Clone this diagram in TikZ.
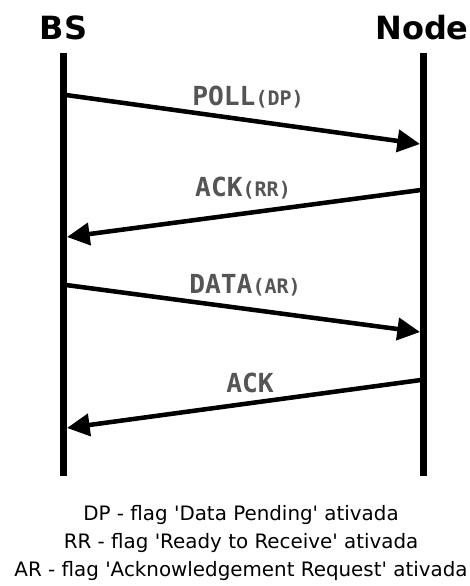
\documentclass[tikz,border=0pt]{standalone}
\usepackage{fontspec}
\setmainfont{DejaVu Sans}
\newfontfamily\monobold{DejaVu Sans Mono}[BoldFont={* Bold}]
\usetikzlibrary{arrows.meta}
\definecolor{msggray}{HTML}{555555}
\newcommand\flagsz{\fontsize{15pt}{18pt}\selectfont}
\newcommand\sq{\textquotesingle}
\tikzset{
  lifeline/.style={line width=5.25pt},
  msg/.style={line width=3.4pt,-{Triangle[length=17pt,width=16.5pt]}},
  actor/.style={font=\fontsize{24pt}{28pt}\selectfont\bfseries,inner sep=0pt},
  msglabel/.style={font=\monobold\bfseries\fontsize{19.7pt}{23pt}\selectfont,text=msggray,inner sep=0pt},
  legend/.style={font=\fontsize{14.9pt}{18pt}\selectfont,inner sep=0pt}
}
\begin{document}
\begin{tikzpicture}[x=0.75pt,y=-0.75pt]
\useasboundingbox (0,0) rectangle (470,586);
% participants
\node[actor] (bs) at (63.5,28) {BS};
\node[actor] (node) at (422,28) {Node};
% lifelines
\coordinate (bsTop) at (63.5,53);
\coordinate (bsBot) at (63.5,476);
\coordinate (ndTop) at (423.5,53);
\coordinate (ndBot) at (423.5,476);
\draw[lifeline] (bsTop) -- (bsBot);
\draw[lifeline] (ndTop) -- (ndBot);
% message end points
\coordinate (m1a) at (66,95);  \coordinate (m1b) at (420,144);
\coordinate (m2a) at (421,190); \coordinate (m2b) at (67,237);
\coordinate (m3a) at (66,285); \coordinate (m3b) at (420,332);
\coordinate (m4a) at (421,380); \coordinate (m4b) at (67,428);
\draw[msg] (m1a) -- (m1b);
\draw[msg] (m2a) -- (m2b);
\draw[msg] (m3a) -- (m3b);
\draw[msg] (m4a) -- (m4b);
% message labels
\node[msglabel] (l1) at (248,97) {POLL{\flagsz(DP)}};
\node[msglabel] (l2) at (243,188) {ACK{\flagsz(RR)}};
\node[msglabel] (l3) at (245,285) {DATA{\flagsz(AR)}};
\node[msglabel] (l4) at (250,383) {ACK};
% legend
\node[legend] (k1) at (241,515) {DP - flag \sq Data Pending\sq\ ativada};
\node[legend] (k2) at (241,543) {RR - flag \sq Ready to Receive\sq\ ativada};
\node[legend] (k3) at (241,571) {AR - flag \sq Acknowledgement Request\sq\ ativada};
\end{tikzpicture}
\end{document}
